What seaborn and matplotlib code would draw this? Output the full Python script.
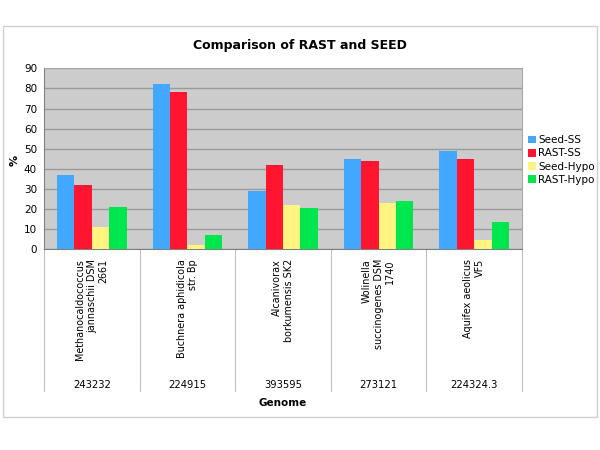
import matplotlib
matplotlib.use("Agg")
import matplotlib.pyplot as plt
import matplotlib.transforms as mtransforms
from matplotlib.patches import Rectangle
import seaborn as sns
import pandas as pd

genomes = ["Methanocaldococcus\njannaschii DSM\n2661", "Buchnera aphidicola\nstr. Bp",
           "Alcanivorax\nborkumensis SK2", "Wolinella\nsuccinogenes DSM\n1740",
           "Aquifex aeolicus\nVF5"]
genome_ids = ["243232", "224915", "393595", "273121", "224324.3"]
series = ["Seed-SS", "RAST-SS", "Seed-Hypo", "RAST-Hypo"]
seed_ss = [37, 82, 29, 45, 49]
rast_ss = [32, 78, 42, 44, 45]
seed_hypo = [11, 2, 22, 23, 4.5]
rast_hypo = [21, 7, 20.5, 24, 13.5]
colors = ["#42A8FF", "#FF1530", "#FFF482", "#00E64F"]

rows = []
for s, vals in zip(series, [seed_ss, rast_ss, seed_hypo, rast_hypo]):
    for g, v in zip(genome_ids, vals):
        rows.append({"Genome": g, "Series": s, "Value": v})
df = pd.DataFrame(rows)

sns.set_style("white")
plt.rcParams['font.family'] = ['DejaVu Sans']
plt.rcParams['text.color'] = 'black'
plt.rcParams['ytick.color'] = 'black'

fig = plt.figure(figsize=(6, 4.5), dpi=100)
ax = fig.add_axes([44/600, 1-249.3/450, (522-44)/600, (249.3-68.3)/450])
ax.set_facecolor("#CCCCCC")

sns.barplot(data=df, x="Genome", y="Value", hue="Series", order=genome_ids,
            hue_order=series, palette=colors, width=0.73, gap=0,
            saturation=1, ax=ax, legend=True, zorder=3, edgecolor="none",
            linewidth=0)

ax.set_ylim(0, 90)
ax.set_yticks(range(0, 91, 10))
ax.yaxis.grid(True, color="#9A9A9A", linewidth=1, zorder=0)
ax.set_axisbelow(True)
ax.tick_params(axis="y", labelsize=7.5, length=3, color="#808080", pad=2,
               labelcolor="black")
ax.set_xlabel("")
ax.set_ylabel("")
ax.set_xticks(range(5))
ax.set_xticklabels([""] * 5)
ax.tick_params(axis="x", length=0)
ax.set_xlim(-0.5, 4.5)
for sp in ["top", "right"]:
    ax.spines[sp].set_color("#A8A8A8")
for sp in ["left", "bottom"]:
    ax.spines[sp].set_color("#808080")

trans = mtransforms.blended_transform_factory(ax.transData, ax.transAxes)
h = (249.3 - 68.3)
for i, (g, gid) in enumerate(zip(genomes, genome_ids)):
    ax.text(i, -(259 - 249.3)/h, g, rotation=90, ha="center", va="top",
            multialignment="right", fontsize=6.9, transform=trans, linespacing=1.2)
    ax.text(i, -(385 - 249.3)/h, gid, ha="center", va="center", fontsize=7.2,
            transform=trans)
for xb in [-0.5, 0.5, 1.5, 2.5, 3.5, 4.5]:
    ax.plot([xb, xb], [0, -(391 - 249.3)/h], color="#C0C0C0", linewidth=0.8,
            transform=trans, clip_on=False)

fig.text(0.5, 1 - 45/450, "Comparison of RAST and SEED", ha="center", va="center",
         fontsize=9, fontweight="bold")
fig.text(0.5 + (283-300)/600, 1 - 402.6/450, "Genome", ha="center", va="center",
         fontsize=7.5, fontweight="bold")
fig.text(15/600, 1 - 160/450, "%", rotation=90, ha="center", va="center",
         fontsize=8, fontweight="bold")

handles, labels = ax.get_legend_handles_labels()
ax.legend_.remove()
fig.legend(handles, labels, loc="center left", bbox_to_anchor=(528/600, 1 - 160/450),
           frameon=False, fontsize=7.5, handlelength=0.75, handleheight=0.75,
           handletextpad=0.2, labelspacing=0.3, borderaxespad=0, borderpad=0)

fig.patches.append(Rectangle((3/600, 1 - 417/450), 594/600, (417-26)/450,
                             transform=fig.transFigure, fill=False,
                             edgecolor="#CFCFCF", linewidth=1))

fig.savefig("out.png", dpi=100)
